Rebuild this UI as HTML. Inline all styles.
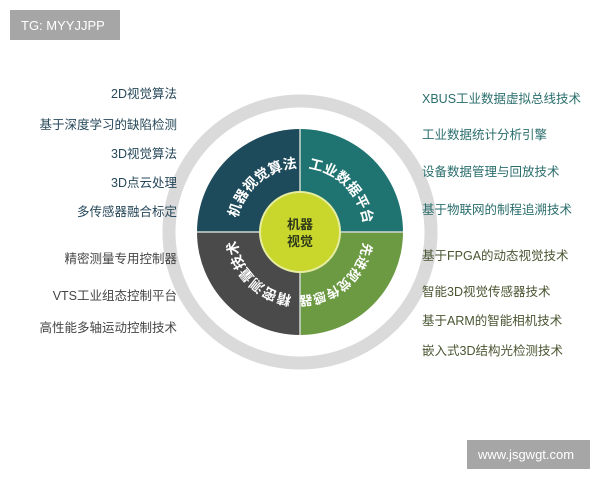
<!DOCTYPE html>
<html><head><meta charset="utf-8"><style>
body{margin:0;width:600px;height:480px;background:#fff;overflow:hidden}
svg{display:block}
text{font-family:"Liberation Sans","Noto Sans CJK SC",sans-serif}
</style></head><body>
<svg width="600" height="480" viewBox="0 0 600 480">
<rect x="10" y="10" width="110" height="30" fill="#a6a6a6"/>
<text x="21" y="30" font-size="13" fill="#fff">TG: MYYJJPP</text>
<rect x="467" y="440" width="123" height="29" fill="#a6a6a6"/>
<text x="478" y="459" font-size="13" fill="#fff">www.jsgwgt.com</text>

<circle cx="300" cy="232" r="131" fill="none" stroke="#dadada" stroke-width="13"/>
<path d="M300,232 L197,232 A103,103 0 0 1 300,129 Z" fill="#1d4b5b"/>
<path d="M300,232 L300,129 A103,103 0 0 1 403,232 Z" fill="#1f7472"/>
<path d="M300,232 L403,232 A103,103 0 0 1 300,335 Z" fill="#6b9a42"/>
<path d="M300,232 L300,335 A103,103 0 0 1 197,232 Z" fill="#4a4a4a"/>
<line x1="197" y1="232" x2="403" y2="232" stroke="#cfd8cf" stroke-width="1.5"/>
<line x1="300" y1="129" x2="300" y2="335" stroke="#cfd8cf" stroke-width="1.5"/>
<circle cx="300" cy="232" r="40" fill="#c9d62c" stroke="#e6eda0" stroke-width="2"/>
<text x="300" y="229" font-size="13" font-weight="bold" fill="#2e3a1a" text-anchor="middle">机器</text>
<text x="300" y="246" font-size="13" font-weight="bold" fill="#2e3a1a" text-anchor="middle">视觉</text>

<defs>
<path id="p1" d="M238.2,215.4 A64,64 0 0 1 294.4,168.2"/>
<path id="p2" d="M305.6,168.2 A64,64 0 0 1 363.8,226.4"/>
<path id="p3" d="M363.8,237.6 A64,64 0 0 1 294.4,295.8"/>
<path id="p4" d="M292.2,295.5 A64,64 0 0 1 236.5,239.8"/>
</defs>
<g font-size="14" font-weight="bold" fill="#fff">
<text text-anchor="middle"><textPath href="#p1" startOffset="50%">机器视觉算法</textPath></text>
<text text-anchor="middle"><textPath href="#p2" startOffset="50%">工业数据平台</textPath></text>
<text text-anchor="middle" font-size="13"><textPath href="#p3" startOffset="50%">先进视觉传感器</textPath></text>
<text text-anchor="middle"><textPath href="#p4" startOffset="50%">精密测量技术</textPath></text>
</g>

<g font-size="12.5" text-anchor="end">
<g fill="#27485a">
<text x="177" y="98">2D视觉算法</text>
<text x="177" y="129">基于深度学习的缺陷检测</text>
<text x="177" y="158">3D视觉算法</text>
<text x="177" y="187">3D点云处理</text>
<text x="177" y="216">多传感器融合标定</text>
</g>
<g fill="#454545">
<text x="177" y="263">精密测量专用控制器</text>
<text x="177" y="300">VTS工业组态控制平台</text>
<text x="177" y="332">高性能多轴运动控制技术</text>
</g>
</g>
<g font-size="12.5">
<g fill="#2a6e6c">
<text x="422" y="103">XBUS工业数据虚拟总线技术</text>
<text x="422" y="139">工业数据统计分析引擎</text>
<text x="422" y="176">设备数据管理与回放技术</text>
<text x="422" y="214">基于物联网的制程追溯技术</text>
</g>
<g fill="#4a5632">
<text x="422" y="260">基于FPGA的动态视觉技术</text>
<text x="422" y="296">智能3D视觉传感器技术</text>
<text x="422" y="325">基于ARM的智能相机技术</text>
<text x="422" y="355">嵌入式3D结构光检测技术</text>
</g>
</g>
</svg>
</body></html>
